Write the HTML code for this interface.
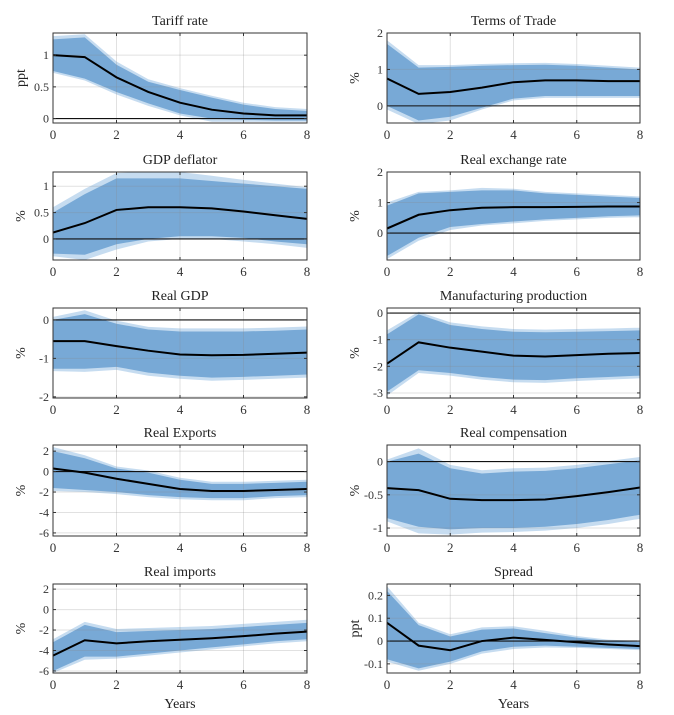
<!DOCTYPE html>
<html><head><meta charset="utf-8"><style>
body{margin:0;background:#fff;}
svg{display:block;font-family:"Liberation Serif",serif;}
</style></head><body>
<svg id="c" width="674" height="715" viewBox="0 0 674 715"></svg>
<script>
const years=[0,1,2,3,4,5,6,7,8];
const xTicks=[0,2,4,6,8];
const titles=["Tariff rate","Terms of Trade","GDP deflator","Real exchange rate","Real GDP","Manufacturing production","Real Exports","Real compensation","Real imports","Spread"];
const yLabels=["ppt","%","%","%","%","%","%","%","%","ppt"];
const showZero=[true,true,true,true,true,true,true,true,false,true];
const yMins=[-0.07,-0.47,-0.4,-0.88,-2.03,-3.19,-6.3,-1.12,-6.2,-0.14];
const yMaxs=[1.35,2,1.27,2,0.31,0.19,2.6,0.25,2.5,0.25];
const yTickSets=[[0,0.5,1],[0,1,2],[0,0.5,1],[0,1,2],[-2,-1,0],[-3,-2,-1,0],[-6,-4,-2,0,2],[-1,-0.5,0],[-6,-4,-2,0,2],[-0.1,0,0.1,0.2]];
const medians=[
[1,0.97,0.65,0.42,0.25,0.14,0.08,0.05,0.05],
[0.75,0.33,0.38,0.5,0.65,0.7,0.7,0.68,0.68],
[0.12,0.3,0.55,0.6,0.6,0.58,0.52,0.45,0.38],
[0.15,0.6,0.75,0.83,0.85,0.85,0.86,0.87,0.87],
[-0.55,-0.55,-0.68,-0.8,-0.9,-0.92,-0.91,-0.88,-0.85],
[-1.9,-1.1,-1.3,-1.45,-1.6,-1.63,-1.58,-1.53,-1.5],
[0.3,-0.1,-0.7,-1.2,-1.7,-1.9,-1.9,-1.8,-1.7],
[-0.4,-0.43,-0.56,-0.58,-0.58,-0.57,-0.52,-0.46,-0.39],
[-4.5,-3.0,-3.3,-3.1,-2.95,-2.8,-2.6,-2.35,-2.15],
[0.08,-0.02,-0.04,0,0.015,0.005,-0.005,-0.015,-0.022]];
const innerHi=[
[1.25,1.28,0.85,0.58,0.45,0.33,0.22,0.15,0.12],
[1.7,1.05,1.07,1.1,1.12,1.13,1.1,1.05,1.0],
[0.5,0.85,1.15,1.15,1.15,1.1,1.05,1.0,0.95],
[0.9,1.3,1.35,1.4,1.4,1.3,1.25,1.2,1.15],
[0,0.15,-0.1,-0.25,-0.3,-0.3,-0.3,-0.28,-0.25],
[-0.8,-0.05,-0.45,-0.6,-0.7,-0.72,-0.7,-0.68,-0.65],
[2.0,1.3,0.3,-0.1,-0.8,-1.2,-1.2,-1.1,-1.0],
[0,0.12,-0.1,-0.18,-0.15,-0.14,-0.1,-0.04,0.02],
[-3.2,-1.5,-2.2,-2.1,-2.0,-1.9,-1.7,-1.5,-1.3],
[0.22,0.07,0.02,0.05,0.055,0.035,0.015,0.0,-0.005]];
const innerLo=[
[0.75,0.63,0.42,0.24,0.08,0,-0.02,-0.03,-0.03],
[0,-0.4,-0.3,-0.05,0.2,0.27,0.27,0.27,0.27],
[-0.28,-0.3,-0.1,0,0.05,0.05,0.02,-0.05,-0.1],
[-0.75,-0.15,0.2,0.3,0.38,0.45,0.5,0.55,0.58],
[-1.27,-1.27,-1.22,-1.37,-1.45,-1.5,-1.48,-1.45,-1.42],
[-2.95,-2.15,-2.25,-2.4,-2.5,-2.52,-2.45,-2.4,-2.35],
[-1.6,-1.8,-2.0,-2.3,-2.5,-2.6,-2.6,-2.4,-2.3],
[-0.85,-0.98,-1.02,-1.0,-1.0,-0.98,-0.94,-0.88,-0.8],
[-6.0,-4.6,-4.6,-4.3,-4.0,-3.7,-3.4,-3.1,-2.9],
[-0.08,-0.12,-0.09,-0.045,-0.025,-0.02,-0.025,-0.03,-0.035]];
const outerHi=[
[1.3,1.33,0.9,0.62,0.48,0.36,0.25,0.18,0.15],
[1.8,1.12,1.12,1.15,1.17,1.18,1.15,1.1,1.05],
[0.6,0.95,1.25,1.28,1.27,1.2,1.12,1.05,0.98],
[1.0,1.35,1.4,1.48,1.45,1.35,1.3,1.25,1.2],
[0.08,0.25,-0.02,-0.18,-0.22,-0.22,-0.22,-0.2,-0.17],
[-0.65,0.05,-0.35,-0.5,-0.6,-0.62,-0.6,-0.58,-0.55],
[2.4,1.6,0.5,0.1,-0.6,-1.0,-1.0,-0.9,-0.8],
[0.03,0.2,-0.05,-0.13,-0.1,-0.09,-0.05,0.01,0.07],
[-2.9,-1.2,-1.9,-1.8,-1.7,-1.6,-1.4,-1.2,-1.0],
[0.24,0.08,0.03,0.06,0.065,0.045,0.022,0.006,0.0]];
const outerLo=[
[0.72,0.6,0.38,0.2,0.05,-0.05,-0.05,-0.05,-0.05],
[-0.1,-0.5,-0.4,-0.1,0.15,0.22,0.22,0.22,0.22],
[-0.33,-0.4,-0.2,-0.05,0,0,-0.05,-0.1,-0.17],
[-0.85,-0.25,0.1,0.25,0.32,0.4,0.45,0.5,0.52],
[-1.33,-1.35,-1.3,-1.45,-1.53,-1.58,-1.56,-1.53,-1.5],
[-3.1,-2.25,-2.35,-2.5,-2.6,-2.62,-2.55,-2.5,-2.45],
[-1.9,-2.0,-2.2,-2.5,-2.7,-2.8,-2.8,-2.6,-2.5],
[-0.9,-1.08,-1.1,-1.07,-1.06,-1.04,-1.0,-0.94,-0.86],
[-6.2,-4.9,-4.8,-4.5,-4.2,-3.9,-3.6,-3.3,-3.1],
[-0.09,-0.13,-0.1,-0.055,-0.035,-0.028,-0.03,-0.035,-0.04]];

const NS="http://www.w3.org/2000/svg";
const svg=document.getElementById('c');
function mk(tag,attrs,parent){const e=document.createElementNS(NS,tag);for(const k in attrs)e.setAttribute(k,attrs[k]);(parent||svg).appendChild(e);return e;}
const colX=[[53,307],[387,640]];
const rowY=[[33,123],[172,260],[308,398],[445,536],[584,673]];
for(let i=0;i<10;i++){
  const c=i%2,r=Math.floor(i/2);
  const x0=colX[c][0],x1=colX[c][1],y0=rowY[r][0],y1=rowY[r][1];
  const g=mk('g',{});
  
  
  const xs=v=>x0+(v-0)/(8-0)*(x1-x0);
  const ys=v=>y1-(v-yMins[i])/(yMaxs[i]-yMins[i])*(y1-y0);
  const cid='clip'+i;
  const cp=mk('clipPath',{id:cid},g);mk('rect',{x:x0,y:y0,width:x1-x0,height:y1-y0},cp);
  const plot=mk('g',{'clip-path':'url(#'+cid+')'},g);
  function band(hi,lo,col,name){
    let d='M'+years.map((t,k)=>xs(t)+','+ys(hi[k])).join('L');
    d+='L'+years.slice().reverse().map((t,k)=>xs(t)+','+ys(lo[8-k])).join('L')+'Z';
    const p=mk('path',{d:d,fill:col,stroke:'none'},plot);
    
    
  }
  band(outerHi[i],outerLo[i],'#c6dcf0','outer-band');
  band(innerHi[i],innerLo[i],'#78a9d6','inner-band');
  xTicks.forEach(t=>{mk('line',{x1:xs(t),x2:xs(t),y1:y0,y2:y1,stroke:'#888','stroke-opacity':0.25,'stroke-width':1},plot);});
  yTickSets[i].forEach(t=>{mk('line',{x1:x0,x2:x1,y1:ys(t),y2:ys(t),stroke:'#888','stroke-opacity':0.25,'stroke-width':1},plot);});
  if(showZero[i]) mk('line',{x1:x0,x2:x1,y1:ys(0),y2:ys(0),stroke:'#111','stroke-width':1.1},plot);
  const ml=mk('polyline',{points:years.map((t,k)=>xs(t)+','+ys(medians[i][k])).join(' '),fill:'none',stroke:'#000','stroke-width':2},plot);
  
  
  mk('rect',{x:x0,y:y0,width:x1-x0,height:y1-y0,fill:'none',stroke:'#333','stroke-width':1},g);
  xTicks.forEach(t=>{
    mk('line',{x1:xs(t),x2:xs(t),y1:y1,y2:y1-3,stroke:'#333'},g);
    mk('line',{x1:xs(t),x2:xs(t),y1:y0,y2:y0+3,stroke:'#333'},g);
    const tx=mk('text',{x:xs(t),y:y1+16,'text-anchor':'middle','font-size':13,fill:'#333'},g);tx.textContent=t;
  });
  yTickSets[i].forEach(t=>{
    mk('line',{x1:x0,x2:x0+3,y1:ys(t),y2:ys(t),stroke:'#333'},g);
    mk('line',{x1:x1,x2:x1-3,y1:ys(t),y2:ys(t),stroke:'#333'},g);
    const tx=mk('text',{x:x0-4,y:ys(t)+4,'text-anchor':'end','font-size':12,fill:'#333'},g);tx.textContent=String(t);
  });
  const ti=mk('text',{x:(x0+x1)/2,y:y0-8,'text-anchor':'middle','font-size':14,fill:'#222'},g);ti.textContent=titles[i];
  
  
  const yl=mk('text',{x:0,y:0,'text-anchor':'middle','font-size':14,fill:'#222',transform:'translate('+(x0-28)+','+((y0+y1)/2)+') rotate(-90)'},g);yl.textContent=yLabels[i];
  
  
  if(r===4){const xl=mk('text',{x:(x0+x1)/2,y:708,'text-anchor':'middle','font-size':14,fill:'#222'},g);xl.textContent='Years';
    
    }
}
</script>
</body></html>
